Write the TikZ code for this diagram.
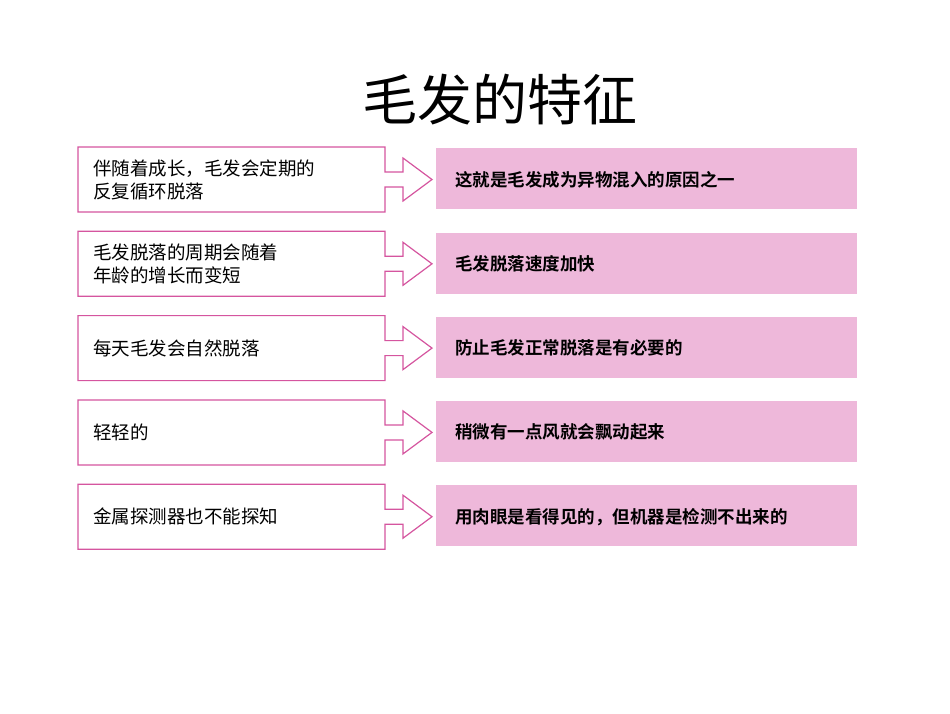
\documentclass[tikz,border=0pt]{standalone}
\usepackage{fontspec}
\newfontfamily\cjk{Noto Sans CJK SC}
\newfontfamily\cjkb{Noto Sans CJK SC Bold}
\definecolor{bord}{HTML}{D5559F}
\definecolor{fillp}{HTML}{EEB8DA}
\begin{document}
\begin{tikzpicture}[x=1pt,y=-1pt,
  lbl/.style={anchor=west,align=left,font=\cjk\fontsize{18.5}{23}\selectfont,inner sep=0},
  rbox/.style={fill=fillp,draw=none,minimum width=421pt,minimum height=61pt,anchor=north west,inner sep=0},
  rlbl/.style={anchor=west,font=\cjkb\fontsize{17.5}{20}\selectfont,inner sep=0},
  outl/.style={draw=bord,line width=1.2pt,fill=white}]
\useasboundingbox (0,0) rectangle (950,713);
\node[font=\cjk\fontsize{55}{60}\selectfont] (title) at (500,100) {毛发的特征};
\foreach \i/\lt/\rt in {0/{伴随着成长，毛发会定期的\\反复循环脱落}/这就是毛发成为异物混入的原因之一,
  1/{毛发脱落的周期会随着\\年龄的增长而变短}/毛发脱落速度加快,
  2/每天毛发会自然脱落/防止毛发正常脱落是有必要的,
  3/轻轻的/稍微有一点风就会飘动起来,
  4/金属探测器也不能探知/用肉眼是看得见的，但机器是检测不出来的}{
  \pgfmathsetmacro{\y}{147+84.3*\i}
  \draw[outl] (78,\y) -- (385,\y) -- (385,\y+25) -- (403,\y+25) -- (403,\y+11) -- (432,\y+32.5)
     -- (403,\y+54) -- (403,\y+40) -- (385,\y+40) -- (385,\y+65) -- (78,\y+65) -- cycle;
  \node[lbl] (l\i) at (93,\y+32.5) {\lt};
  \node[rbox] (r\i) at (436,\y+1) {};
  \node[rlbl] (rt\i) at (455,\y+32.5) {\rt};
}
\end{tikzpicture}
\end{document}
